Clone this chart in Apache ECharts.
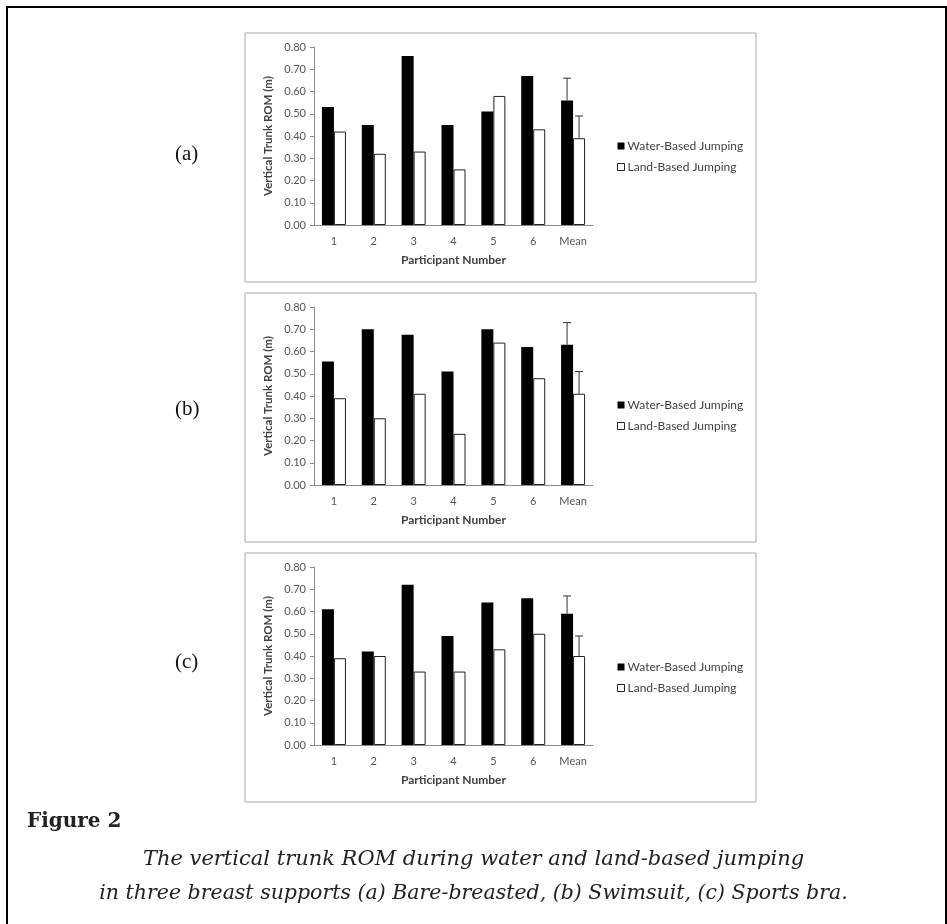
<!DOCTYPE html>
<html>
<head>
<meta charset="utf-8">
<script src="https://cdn.jsdelivr.net/npm/echarts@6/dist/echarts.min.js"></script>
<style>
  html, body { margin: 0; padding: 0; background: #fff; }
  #main { width: 947px; height: 924px; }
</style>
</head>
<body>
<div id="main"></div>
<script>
// participant labels on the x axis
var categories = ['1', '2', '3', '4', '5', '6', 'Mean'];

// (a) bare-breasted
var waterA = [0.53, 0.45, 0.76, 0.45, 0.51, 0.67, 0.56];
var landA  = [0.42, 0.32, 0.33, 0.25, 0.58, 0.43, 0.39];
// (b) swimsuit
var waterB = [0.555, 0.70, 0.675, 0.51, 0.70, 0.62, 0.63];
var landB  = [0.39, 0.30, 0.41, 0.23, 0.64, 0.48, 0.41];
// (c) sports bra
var waterC = [0.61, 0.42, 0.72, 0.49, 0.64, 0.66, 0.59];
var landC  = [0.39, 0.40, 0.33, 0.33, 0.43, 0.50, 0.40];

// standard deviation of the mean bars [water, land]
var sdA = [0.10, 0.10];
var sdB = [0.10, 0.10];
var sdC = [0.08, 0.09];

var panelNames = ['(a)', '(b)', '(c)'];
var waterName = 'Water-Based Jumping';
var landName = 'Land-Based Jumping';

var panels = [
  { water: waterA, land: landA, sd: sdA },
  { water: waterB, land: landB, sd: sdB },
  { water: waterC, land: landC, sd: sdC }
];

var BAR_W = 12;
var gridTops = [47, 307, 567];
var panelTops = [33, 293, 553];
var legendTops = [135, 394, 656];
var labelTops = [144, 399, 652];
var chartFont = 'Lato, "Open Sans", sans-serif';

var chart = echarts.init(document.getElementById('main'), null, { renderer: 'canvas' });

// error bar: vertical line up from the mean bar plus a cap
function renderError(params, api) {
  var side = api.value(3);
  var base = api.coord([api.value(0), api.value(1)]);
  var top = api.coord([api.value(0), api.value(2)]);
  var x = base[0] + side * BAR_W / 2;
  var style = { stroke: '#333', lineWidth: 1 };
  return {
    type: 'group',
    children: [
      { type: 'line', shape: { x1: x, y1: base[1], x2: x, y2: top[1] }, style: style },
      { type: 'line', shape: { x1: x - 4, y1: top[1], x2: x + 4, y2: top[1] }, style: style }
    ]
  };
}

var grids = [], xAxes = [], yAxes = [], series = [], legends = [], graphics = [];

// outer frame of the figure
graphics.push({
  type: 'polyline', z: -20,
  shape: { points: [[7, 924], [7, 7], [946, 7], [946, 924]] },
  style: { stroke: '#000', lineWidth: 2, fill: null }
});

panels.forEach(function (p, i) {
  grids.push({ left: 314, width: 279, top: gridTops[i], height: 178 });
  xAxes.push({
    type: 'category', gridIndex: i, data: categories,
    name: 'Participant Number', nameLocation: 'middle', nameGap: 29,
    nameTextStyle: { fontFamily: chartFont, fontWeight: 'bold', fontSize: 12, color: '#404040' },
    axisLine: { lineStyle: { color: '#8c8c8c', width: 1 } },
    axisTick: { length: 4, lineStyle: { color: '#8c8c8c' } },
    axisLabel: { fontFamily: chartFont, fontSize: 11, color: '#555', margin: 11 }
  });
  yAxes.push({
    type: 'value', gridIndex: i, min: 0, max: 0.8, interval: 0.1,
    name: 'Vertical Trunk ROM (m)', nameLocation: 'middle', nameGap: 40,
    nameTextStyle: { fontFamily: chartFont, fontWeight: 'bold', fontSize: 11.5, color: '#404040' },
    axisLine: { show: true, lineStyle: { color: '#8c8c8c', width: 1 } },
    axisTick: { show: true, length: 4, lineStyle: { color: '#8c8c8c' } },
    splitLine: { show: false },
    axisLabel: {
      fontFamily: chartFont, fontSize: 11, color: '#555', margin: 8,
      formatter: function (v) { return v.toFixed(2); }
    }
  });
  series.push({
    name: waterName, type: 'bar', xAxisIndex: i, yAxisIndex: i,
    data: p.water, barWidth: BAR_W, barGap: '0%',
    itemStyle: { color: '#000' }
  });
  series.push({
    name: landName, type: 'bar', xAxisIndex: i, yAxisIndex: i,
    data: p.land, barWidth: BAR_W, barGap: '0%',
    itemStyle: { color: '#fff', borderColor: '#222', borderWidth: 1 }
  });
  var m = categories.length - 1;
  series.push({
    type: 'custom', xAxisIndex: i, yAxisIndex: i, z: 5,
    renderItem: renderError,
    data: [
      [m, p.water[m], p.water[m] + p.sd[0], -1],
      [m, p.land[m], p.land[m] + p.sd[1], 1]
    ]
  });
  legends.push({
    orient: 'vertical', left: 612, top: legendTops[i],
    itemWidth: 7, itemHeight: 7, itemGap: 9, icon: 'rect',
    textStyle: { fontFamily: chartFont, fontSize: 12, color: '#404040', padding: [0, 0, 0, -2] },
    data: [
      { name: waterName, itemStyle: { color: '#000' } },
      { name: landName, itemStyle: { color: '#fff', borderColor: '#222', borderWidth: 1 } }
    ]
  });
  graphics.push({
    type: 'rect', z: -10,
    shape: { x: 245, y: panelTops[i], width: 511, height: 249 },
    style: { fill: '#fff', stroke: '#a8a8a8', lineWidth: 1 }
  });
  graphics.push({
    type: 'text', left: 175, top: labelTops[i],
    style: { text: panelNames[i], font: '21px "Liberation Serif", serif', fill: '#111' }
  });
});

graphics.push({
  type: 'text', left: 27, top: 812,
  style: { text: 'Figure 2', font: 'bold 20px "DejaVu Serif", serif', fill: '#222' }
});
graphics.push({
  type: 'text', left: 'center', top: 849,
  style: { text: 'The vertical trunk ROM during water and land-based jumping', font: 'italic 21px "DejaVu Serif", serif', fill: '#222' }
});
graphics.push({
  type: 'text', left: 'center', top: 884,
  style: { text: 'in three breast supports (a) Bare-breasted, (b) Swimsuit, (c) Sports bra.', font: 'italic 20.5px "DejaVu Serif", serif', fill: '#222' }
});

chart.setOption({
  backgroundColor: '#fff',
  animation: false,
  grid: grids,
  xAxis: xAxes,
  yAxis: yAxes,
  legend: legends,
  series: series,
  graphic: graphics
});
</script>
</body>
</html>
